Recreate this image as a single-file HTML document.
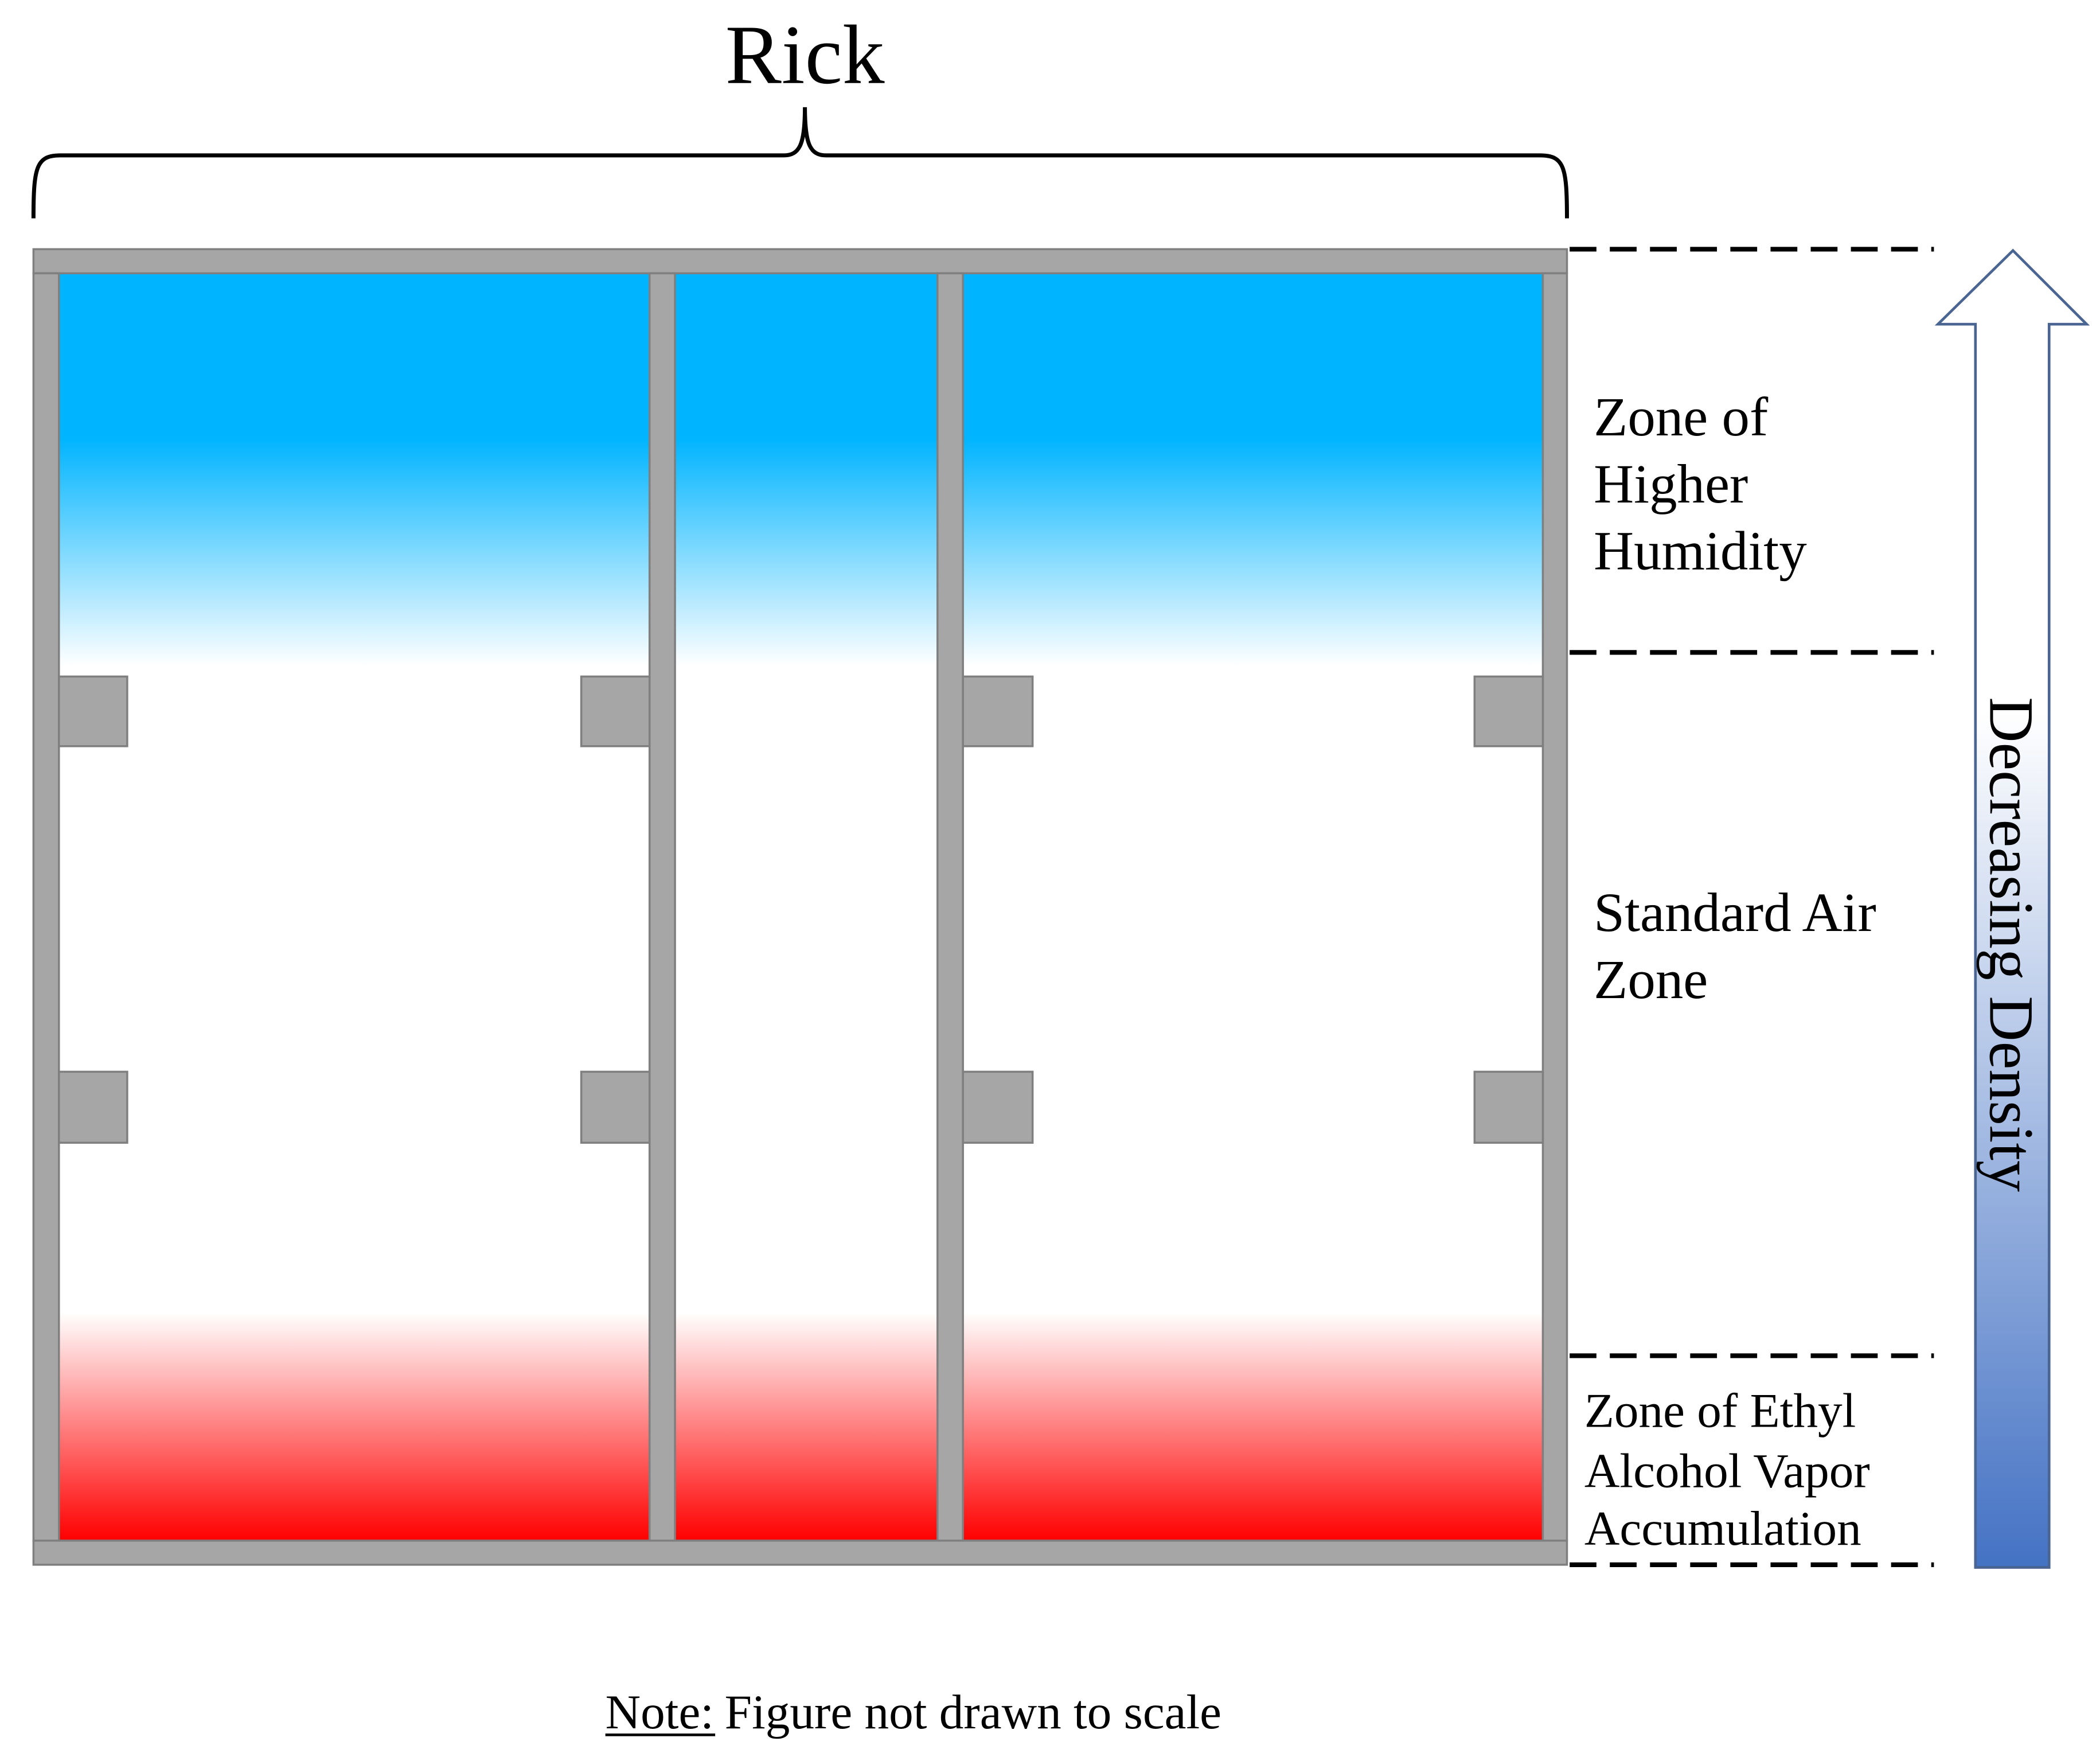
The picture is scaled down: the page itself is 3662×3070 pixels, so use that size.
<!DOCTYPE html>
<html><head><meta charset="utf-8"><style>
html,body{margin:0;padding:0;background:#fff;}
svg{display:block;}
text{font-family:"Liberation Serif",serif;fill:#000;}
</style></head><body>
<svg width="3662" height="3070" viewBox="0 0 1568 1314.5" preserveAspectRatio="none" xmlns="http://www.w3.org/2000/svg">
<defs>
<linearGradient id="fill" x1="0" y1="204" x2="0" y2="1150" gradientUnits="userSpaceOnUse">
<stop offset="0" stop-color="#00b4ff"/>
<stop offset="0.13" stop-color="#00b4ff"/>
<stop offset="0.31" stop-color="#ffffff"/>
<stop offset="0.82" stop-color="#ffffff"/>
<stop offset="1" stop-color="#ff0000"/>
</linearGradient>
<linearGradient id="arr" x1="0" y1="187" x2="0" y2="1170" gradientUnits="userSpaceOnUse">
<stop offset="0" stop-color="#ffffff"/>
<stop offset="0.35" stop-color="#ffffff"/>
<stop offset="1" stop-color="#4472c4"/>
</linearGradient>
</defs>
<rect width="1568" height="1314.5" fill="#fff"/>
<text x="601" y="62" font-size="63" text-anchor="middle">Rick</text>
<path d="M25,163 C25,125 27,116 45,116 L585,116 C597,116 601,108 601,80 C601,108 605,116 617,116 L1150,116 C1168,116 1170,125 1170,163" fill="none" stroke="#000" stroke-width="3"/>
<rect x="44" y="204" width="1108" height="946" fill="url(#fill)"/>
<g fill="#a6a6a6" stroke="#7f7f7f" stroke-width="1.5">
<rect x="25" y="186" width="1145" height="18"/>
<rect x="25" y="1150" width="1145" height="18"/>
<rect x="25" y="204" width="19" height="946"/>
<rect x="1152" y="204" width="18" height="946"/>
<rect x="485" y="204" width="19" height="946"/>
<rect x="700" y="204" width="19" height="946"/>
<rect x="44" y="505" width="51" height="52"/>
<rect x="434" y="505" width="51" height="52"/>
<rect x="719" y="505" width="52" height="52"/>
<rect x="1101" y="505" width="51" height="52"/>
<rect x="44" y="800" width="51" height="53"/>
<rect x="434" y="800" width="51" height="53"/>
<rect x="719" y="800" width="52" height="53"/>
<rect x="1101" y="800" width="51" height="53"/>
</g>
<g stroke="#000" stroke-width="3.5" stroke-dasharray="20,10">
<line x1="1172" y1="186" x2="1444" y2="186"/>
<line x1="1172" y1="487" x2="1444" y2="487"/>
<line x1="1172" y1="1012" x2="1444" y2="1012"/>
<line x1="1172" y1="1168" x2="1444" y2="1168"/>
</g>
<g font-size="41.5">
<text x="1190" y="325">Zone of</text>
<text x="1190" y="375">Higher</text>
<text x="1190" y="425">Humidity</text>
<text x="1190" y="695">Standard Air</text>
<text x="1190" y="745">Zone</text>
</g>
<g font-size="36.5">
<text x="1183" y="1065">Zone of Ethyl</text>
<text x="1183" y="1110">Alcohol Vapor</text>
<text x="1183" y="1153">Accumulation</text>
</g>
<path d="M1503,187 L1558,242 L1530,242 L1530,1170 L1475,1170 L1475,242 L1447,242 Z" fill="url(#arr)" stroke="#4a6592" stroke-width="2"/>
<text font-size="47" text-anchor="middle" transform="translate(1486,705) rotate(90)">Decreasing Density</text>
<text x="452" y="1290" font-size="36.5">Note:<tspan dx="8">Figure not drawn to scale</tspan></text>
<line x1="452" y1="1295" x2="534" y2="1295" stroke="#000" stroke-width="2"/>
</svg>
</body></html>
